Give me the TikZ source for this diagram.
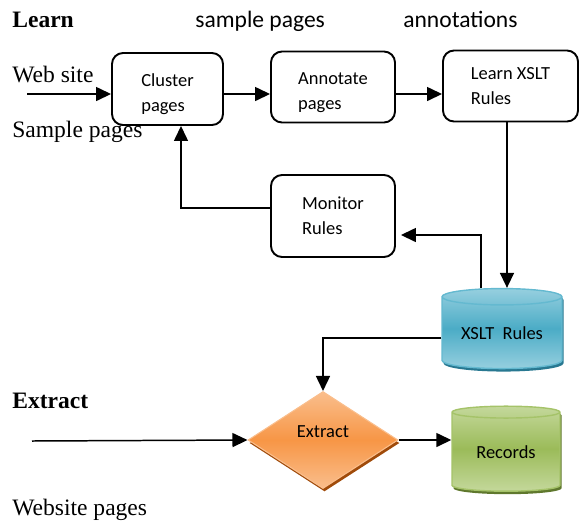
\documentclass[tikz,border=0pt]{standalone}
\usepackage{fontspec}
\setmainfont{Liberation Serif}
\newfontfamily\calibri{Carlito}
\usetikzlibrary{arrows.meta,shapes.geometric,shadows}

\definecolor{aquamid}{RGB}{75,172,198}
\definecolor{aqualight}{RGB}{150,207,223}
\definecolor{aquarim}{RGB}{100,185,208}
\definecolor{aquadark}{RGB}{40,120,145}
\definecolor{greenmid}{RGB}{155,187,89}
\definecolor{greenlight}{RGB}{196,216,155}
\definecolor{greenrim}{RGB}{165,195,105}
\definecolor{greendark}{RGB}{95,120,45}
\definecolor{orangemid}{RGB}{247,150,70}
\definecolor{orangelight}{RGB}{250,190,140}
\definecolor{orangedark}{RGB}{160,75,10}

\begin{document}
\begin{tikzpicture}[x=0.2mm,y=-0.2mm,
    flowarrow/.style={line width=0.85pt,-{Triangle[length=3mm,width=2.8mm]}},
    procbox/.style={draw,line width=1.1pt,rounded corners=2.2mm,align=left,
        inner sep=0pt,font=\calibri\fontsize{10.5}{14.2}\selectfont},
    dbcyl/.style={cylinder,shape border rotate=90,aspect=0.2,inner sep=0pt,
        font=\calibri\fontsize{10.5}{13}\selectfont},
    serifhead/.style={anchor=base west,inner sep=0pt,font=\fontsize{13.4}{16}\selectfont\bfseries},
    seriflabel/.style={anchor=base west,inner sep=0pt,font=\fontsize{13.4}{16}\selectfont},
    sanslabel/.style={anchor=base west,inner sep=0pt,font=\calibri\fontsize{13.4}{16}\selectfont}]
    \useasboundingbox (0,0) rectangle (579,521);

    % learning part
    \node[serifhead] (learnhead) at (12,27) {Learn};
    \node[sanslabel] (samplelbl) at (195,27) {sample pages};
    \node[sanslabel] (annotlbl) at (403,27) {annotations};
    \node[seriflabel] (weblbl) at (12,82) {Web site};
    \node[seriflabel] (sampleslbl) at (12,137) {Sample pages};

    \node[procbox,minimum width=22.2mm,minimum height=14.4mm] (cluster) at (167.5,89) {\rule{0pt}{13.4pt}Cluster\\pages};
    \node[procbox,minimum width=24.8mm,minimum height=14.2mm] (annotate) at (333,87) {\rule{0pt}{13.4pt}Annotate\\pages};
    \node[procbox,minimum width=27mm,minimum height=14.2mm] (learn) at (510.5,86) {Learn XSLT\\Rules};
    \node[procbox,minimum width=24.8mm,minimum height=16.4mm] (monitor) at (333,216) {Monitor\\Rules};

    \node[dbcyl,minimum height=16mm,minimum width=24mm,draw=aquarim,line width=0.8pt,
        shading=axis,top color=aqualight,bottom color=aqualight,middle color=aquamid,
        drop shadow={shadow xshift=0.3mm,shadow yshift=-0.6mm,fill=aquadark,opacity=1}]
        (xslt) at (502,333) {XSLT\ \ Rules};

    \coordinate (webin) at (27,94);
    \draw[flowarrow] (webin) -- (webin -| cluster.west);
    \draw[flowarrow] (cluster.east |- webin) -- (annotate.west |- webin);
    \draw[flowarrow] (annotate.east |- webin) -- (learn.west |- webin);
    \draw[flowarrow] ([xshift=-0.7mm]learn.south) -- ([xshift=-0.7mm]learn.south |- xslt.north);
    \draw[flowarrow,shorten >=1mm] ([xshift=-4.2mm]xslt.north) |- ([yshift=-3.8mm]monitor.east);
    \draw[flowarrow] ([yshift=1.6mm]monitor.west) -| ([xshift=2.7mm]cluster.south);

    % extraction part
    \node[serifhead] (extracthead) at (12,408) {Extract};
    \node[seriflabel] (pageslbl) at (12,515) {Website pages};

    \node[diamond,minimum width=30mm,minimum height=19.4mm,inner sep=0pt,aspect=1.55,
        draw=orangelight,line width=0.6pt,
        shading=axis,top color=orangelight,bottom color=orangelight,middle color=orangemid,
        drop shadow={shadow xshift=0.3mm,shadow yshift=-0.6mm,fill=orangedark,opacity=1},
        font=\calibri\fontsize{10.5}{13}\selectfont]
        (extract) at (323,440) {\raisebox{0.6mm}[0pt][0pt]{Extract}};
    \node[dbcyl,minimum height=17mm,minimum width=21.6mm,draw=greenrim,line width=0.8pt,
        shading=axis,top color=greenlight,bottom color=greenlight,middle color=greenmid,
        drop shadow={shadow xshift=0.3mm,shadow yshift=-0.6mm,fill=greendark,opacity=1}]
        (records) at (506,452) {Records};

    \coordinate (pagesin) at (32,441);
    \draw[flowarrow] ([yshift=-1mm]xslt.west) -| (extract.north);
    \draw[flowarrow] (pagesin) -- (extract.west);
    \draw[flowarrow] (extract.east) -- (extract.east -| records.west);
\end{tikzpicture}
\end{document}
